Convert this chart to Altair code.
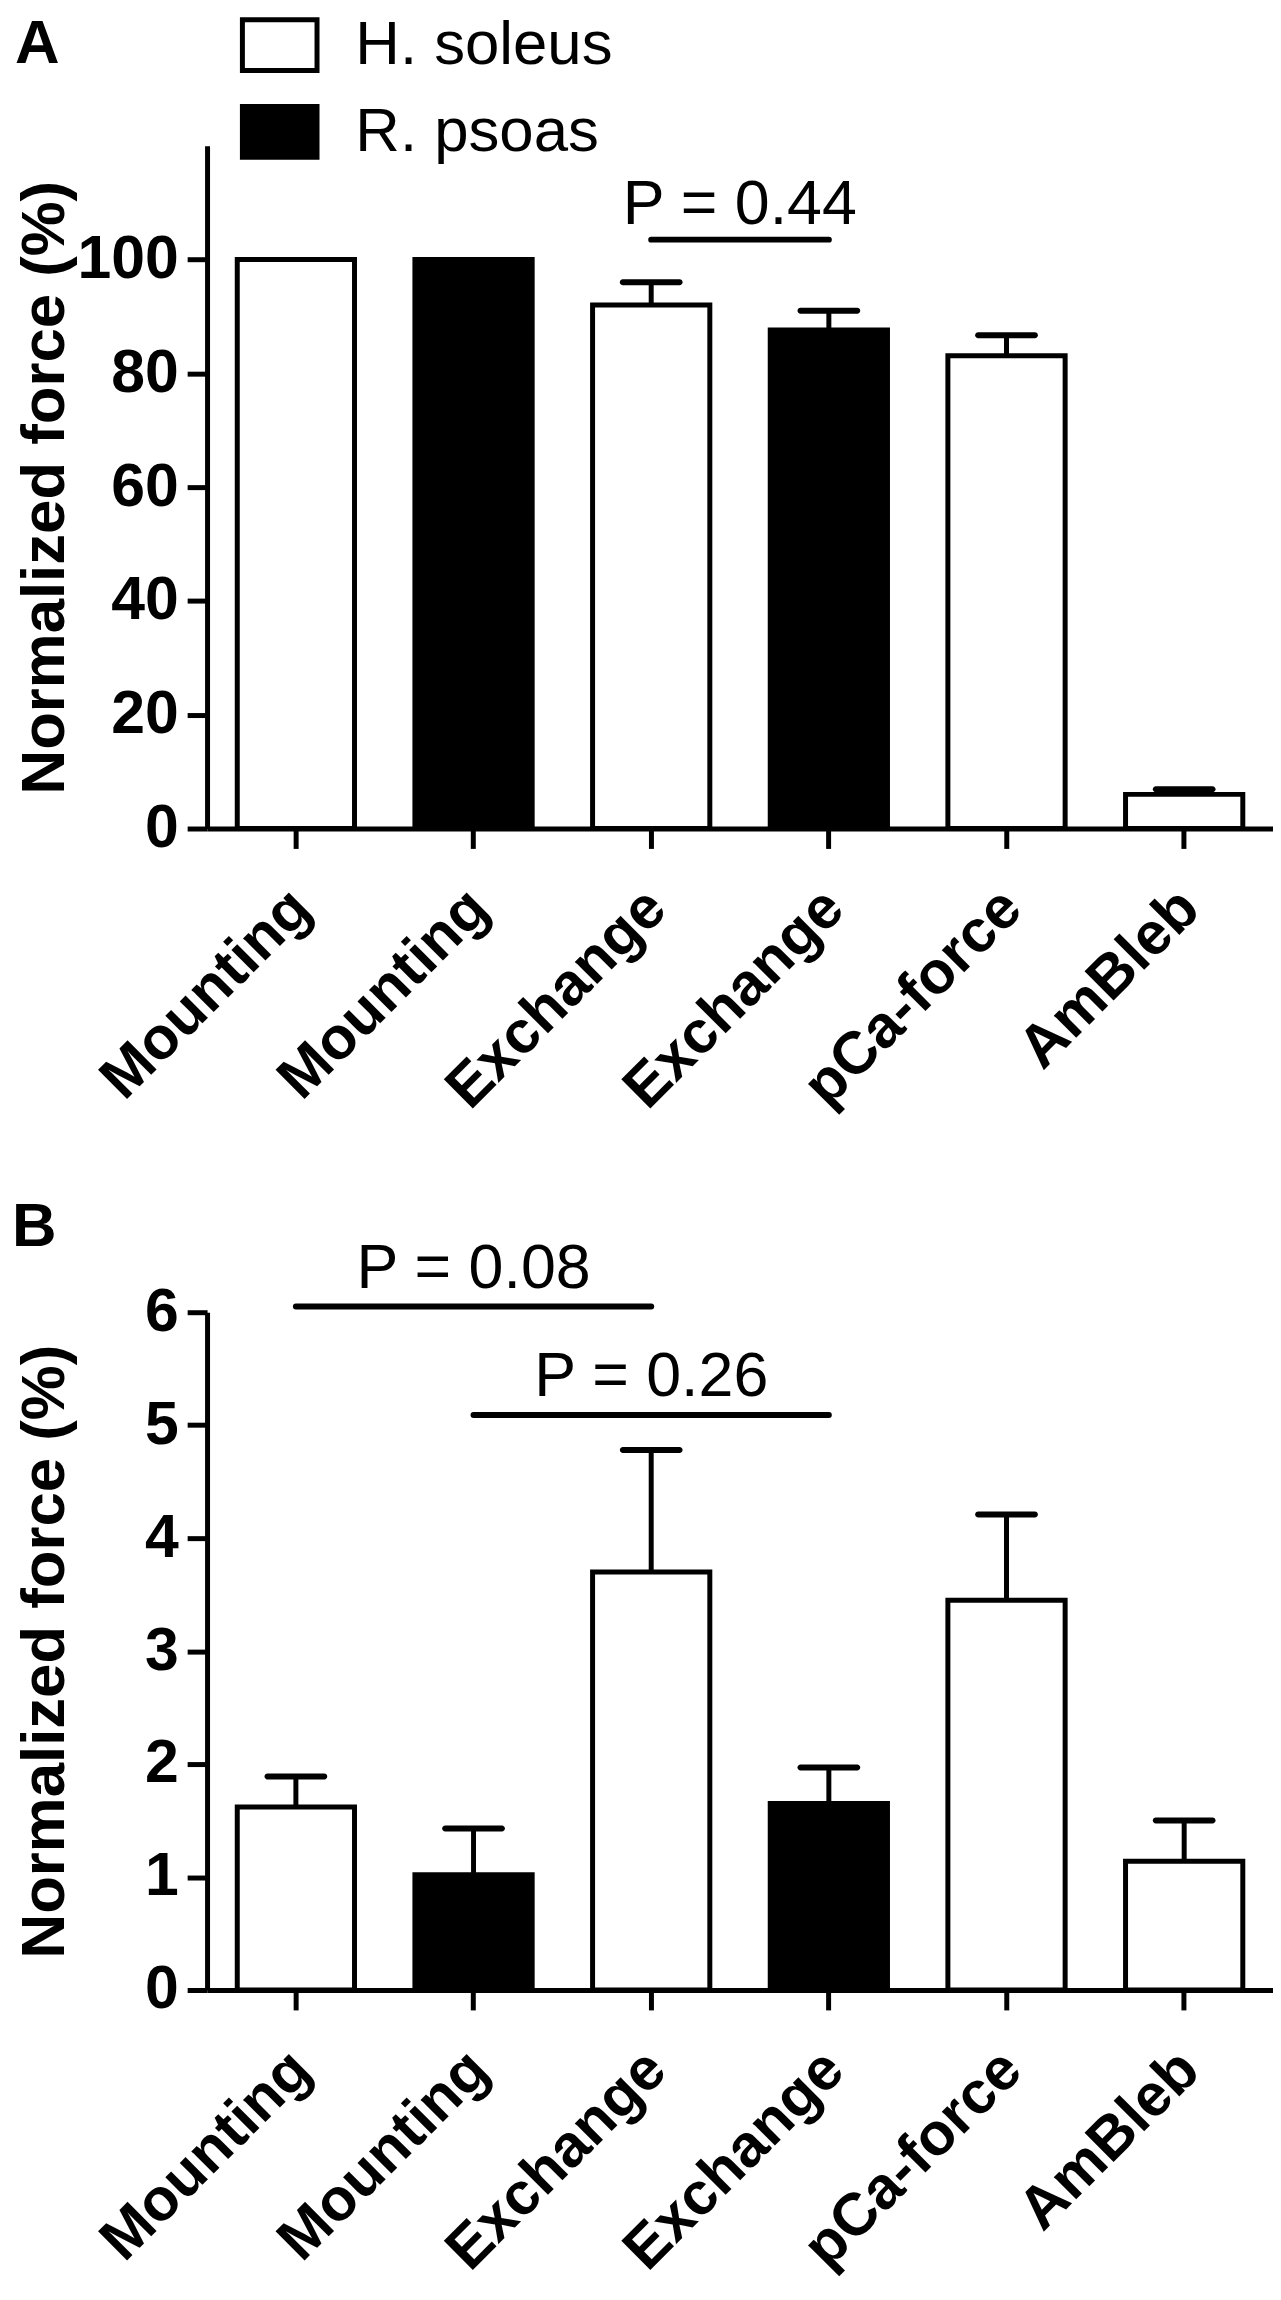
import altair as alt
import pandas as pd

FONT = "Liberation Sans"

# categories (unique keys; label shown is the part before '|')
keys = ["Mounting|H", "Mounting|R", "Exchange|H", "Exchange|R", "pCa-force|H", "AmBleb|H"]
muscle = ["H. soleus", "R. psoas", "H. soleus", "R. psoas", "H. soleus", "H. soleus"]

# panel A values
a_mean = [100, 100, 92.0, 87.6, 83.1, 6.0]
a_err = [0, 0, 4.0, 3.4, 3.6, 0.9]

# panel B values
b_mean = [1.62, 1.02, 3.70, 1.65, 3.45, 1.14]
b_err = [0.27, 0.41, 1.08, 0.32, 0.76, 0.36]

# significance annotations
a_p_from = ["Exchange|H"]
a_p_to = ["Exchange|R"]
a_p_mid = ["Exchange|H"]
a_p_line = [103.5]
a_p_text = [106.3]
a_p_label = ["P = 0.44"]

b_p_from = ["Mounting|H", "Mounting|R"]
b_p_to = ["Exchange|H", "Exchange|R"]
b_p_mid = ["Mounting|R", "Exchange|H"]
b_p_line = [6.05, 5.09]
b_p_text = [6.21, 5.26]
b_p_label = ["P = 0.08", "P = 0.26"]

a_ticks = [0, 20, 40, 60, 80, 100]
b_ticks = [0, 1, 2, 3, 4, 5, 6]

W = 1071

x_scale = alt.Scale(domain=keys, paddingInner=0.34, paddingOuter=0.17)
x_axis = alt.Axis(
    title=None, labelExpr="split(datum.label, '|')[0]", labelAngle=-45,
    labelAlign="right", labelBaseline="top", labelFont=FONT, labelFontSize=60,
    labelFontWeight="bold", labelColor="black", labelPadding=30, labelOffset=-15,
    labelLimit=1000, labelOverlap=False, tickSize=20, tickWidth=5, tickColor="black",
    domainWidth=5, domainColor="black", grid=False,
)


def panel(mean, err, ymax, yticks, pf, pt, pm, pl, ptxt, plab, text_dx, letter, letter_x, letter_y, H, legend):
    df = pd.DataFrame({"key": keys, "muscle": muscle, "mean": mean, "err": err})
    df["upper"] = df["mean"] + df["err"]
    dfe = df[df["err"] > 0]
    ann = pd.DataFrame({"x1": pf, "x2": pt, "xm": pm, "yl": pl, "yt": ptxt, "lab": plab})

    y_scale = alt.Scale(domain=[0, ymax], nice=False, zero=True)
    y_axis = alt.Axis(
        title="Normalized force (%)", values=yticks, titleFont=FONT, titleFontSize=62,
        titleFontWeight="bold", titleColor="black", titlePadding=0, labelFont=FONT,
        labelFontSize=61, labelFontWeight="bold", labelColor="black", labelPadding=9,
        labelFlush=False, minExtent=131, tickSize=20, tickWidth=5, tickColor="black",
        domainWidth=5, domainColor="black", grid=False,
    )
    X = alt.X("key:N", scale=x_scale, axis=x_axis, sort=keys)

    if legend:
        leg = alt.Legend(
            title=None, orient="none", legendX=42, legendY=-132, labelFont=FONT,
            labelFontSize=62, labelFontWeight="normal", labelColor="black", labelLimit=1000,
            symbolType="M-1.47,-1L1.47,-1L1.47,1L-1.47,1Z", symbolSize=2601,
            symbolStrokeColor="black", symbolStrokeWidth=5, symbolOpacity=1,
            rowPadding=15, labelOffset=45, padding=0,
        )
    else:
        leg = None
    fill = alt.Fill("muscle:N", scale=alt.Scale(domain=["H. soleus", "R. psoas"], range=["white", "black"]), legend=leg)

    bars = alt.Chart(df).mark_bar(stroke="black", strokeWidth=5, strokeJoin="miter").encode(
        x=X, y=alt.Y("mean:Q", scale=y_scale, axis=y_axis), fill=fill
    )
    erule = alt.Chart(dfe).mark_rule(color="black", strokeWidth=5).encode(
        x=X, y=alt.Y("mean:Q", scale=y_scale, axis=y_axis), y2="upper:Q"
    )
    ecap = alt.Chart(dfe).mark_tick(color="black", size=63, thickness=6, cornerRadius=3, opacity=1).encode(
        x=X, y=alt.Y("upper:Q", scale=y_scale, axis=y_axis)
    )
    prule = alt.Chart(ann).mark_rule(color="black", strokeWidth=6, strokeCap="round").encode(
        x=alt.X("x1:N", scale=x_scale, axis=x_axis, bandPosition=0.5),
        x2=alt.X2("x2", bandPosition=0.5),
        y=alt.Y("yl:Q", scale=y_scale, axis=y_axis),
    )
    ptext = alt.Chart(ann).mark_text(
        font=FONT, fontSize=63, color="black", align="center", baseline="alphabetic", dx=text_dx
    ).encode(
        x=alt.X("xm:N", scale=x_scale, axis=x_axis, bandPosition=0.5),
        y=alt.Y("yt:Q", scale=y_scale, axis=y_axis),
        text="lab:N",
    )
    let = alt.Chart(pd.DataFrame({"t": [letter]})).mark_text(
        font=FONT, fontSize=62, fontWeight="bold", color="black", align="left", baseline="top"
    ).encode(text="t:N", x=alt.value(letter_x), y=alt.value(letter_y))

    return alt.layer(bars, erule, ecap, prule, ptext, let).properties(width=W, height=H)


A = panel(a_mean, a_err, 120, a_ticks, a_p_from, a_p_to, a_p_mid, a_p_line, a_p_text, a_p_label,
          89, "A", -193, -132, 686, True)
B = panel(b_mean, b_err, 6, b_ticks, b_p_from, b_p_to, b_p_mid, b_p_line, b_p_text, b_p_label,
          0, "B", -196, -116, 681, False)

chart = alt.vconcat(A, B, spacing=486, bounds="flush").properties(
    padding={"left": 4, "top": 0, "right": 0, "bottom": 0}, background="white"
).configure_view(stroke=None)

chart.save("out.html", embed_options={"renderer": "svg", "actions": False})
